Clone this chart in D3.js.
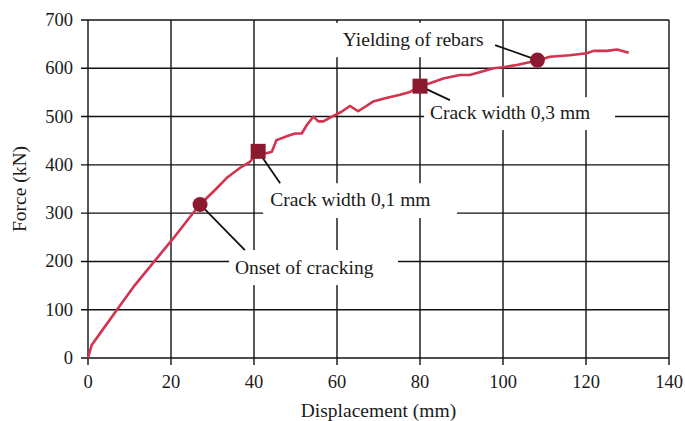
<!DOCTYPE html>
<html>
<head>
<meta charset="utf-8">
<script src="https://cdn.jsdelivr.net/npm/d3@7"></script>
<style>
  body { margin: 0; background: #fff; }
  text { font-family: "Liberation Serif", "DejaVu Serif", serif; fill: #1a1a1a; }
</style>
</head>
<body>
<div id="chart"></div>
<script>
// load-displacement curve
var displacement = [0, 0.9, 2.9, 6.9, 11.3, 15.3, 20.2, 23.4, 26.2, 27, 30.6, 33.7, 37, 39, 41, 43, 44.3, 45.4, 47.5, 49.9, 51.5, 52.7, 54.3, 55.5, 56.7, 57.9, 59.5, 61.1, 63.1, 65.1, 68.7, 71.6, 75.2, 77.6, 80, 82.4, 85.6, 89.6, 92, 97.7, 100, 103.3, 108.3, 111.3, 116.1, 120.2, 121.8, 125, 127.5, 130.3];
var force = [0, 27, 51, 99, 151, 193, 244, 279, 310, 318, 348, 375, 396, 406, 428, 424, 427, 451, 458, 465, 465, 482, 500, 490, 490, 496, 503, 510, 522, 511, 531, 538, 545, 551, 563, 569, 579, 586, 586, 600, 602, 607, 616, 624, 627, 631, 636, 636, 639, 632];

var xTicks = [0, 20, 40, 60, 80, 100, 120, 140];
var yTicks = [0, 100, 200, 300, 400, 500, 600, 700];

// marked events
var eventNames = ["Onset of cracking", "Crack width 0,1 mm", "Crack width 0,3 mm", "Yielding of rebars"];
var eventX = [27, 41, 80, 108.3];
var eventY = [318, 428, 563, 617];
var eventShape = ["circle", "square", "square", "circle"];

// label boxes (data units): [x0, x1, yTop, yBottom], text anchor, leader end
var labelBox = [[34, 74.7, 223.6, 151], [42.2, 88.9, 362, 290], [81, 127, 540, 472], [59.5, 98.5, 694, 623]];
var labelText = [[35.4, 174], [43.9, 315], [82.4, 495], [61.4, 646]];
var leaderEnd = [[37.8, 223.6], [46.3, 362], [87.2, 534], [98.1, 648]];

var W = 685, H = 421;
var margin = {top: 20, right: 16, bottom: 63, left: 88};

var svg = d3.select("#chart").append("svg")
    .attr("width", W).attr("height", H);

var x = d3.scaleLinear().domain([0, 140]).range([margin.left, W - margin.right]);
var y = d3.scaleLinear().domain([0, 700]).range([H - margin.bottom, margin.top]);

// grid
svg.append("g")
    .selectAll("line.h").data(yTicks).enter().append("line")
    .attr("x1", x(0) - 7).attr("x2", x(140))
    .attr("y1", function(d) { return y(d); }).attr("y2", function(d) { return y(d); })
    .attr("stroke", "#111").attr("stroke-width", 1.4);

svg.append("g")
    .selectAll("line.v").data(xTicks).enter().append("line")
    .attr("y1", y(700)).attr("y2", y(0) + 7)
    .attr("x1", function(d) { return x(d); }).attr("x2", function(d) { return x(d); })
    .attr("stroke", "#111").attr("stroke-width", 1.4);

// tick labels
svg.append("g").selectAll("text").data(yTicks).enter().append("text")
    .attr("x", x(0) - 15)
    .attr("y", function(d) { return y(d) + 6; })
    .attr("text-anchor", "end")
    .style("font-size", "18.5px")
    .text(function(d) { return d; });

svg.append("g").selectAll("text").data(xTicks).enter().append("text")
    .attr("x", function(d) { return x(d); })
    .attr("y", y(0) + 30)
    .attr("text-anchor", "middle")
    .style("font-size", "18.5px")
    .text(function(d) { return d; });

// axis titles
svg.append("text")
    .attr("x", (x(0) + x(140)) / 2)
    .attr("y", 417)
    .attr("text-anchor", "middle")
    .style("font-size", "19.5px")
    .text("Displacement (mm)");

svg.append("text")
    .attr("transform", "translate(26," + ((y(0) + y(700)) / 2) + ") rotate(-90)")
    .attr("text-anchor", "middle")
    .style("font-size", "19.5px")
    .text("Force (kN)");

// label boxes hide the grid behind them
svg.append("g").selectAll("rect").data(labelBox).enter().append("rect")
    .attr("x", function(d) { return x(d[0]); })
    .attr("y", function(d) { return y(d[2]); })
    .attr("width", function(d) { return x(d[1]) - x(d[0]); })
    .attr("height", function(d) { return y(d[3]) - y(d[2]); })
    .attr("fill", "#fff");

svg.append("g").selectAll("text").data(eventNames).enter().append("text")
    .attr("x", function(d, i) { return x(labelText[i][0]); })
    .attr("y", function(d, i) { return y(labelText[i][1]); })
    .style("font-size", "19.5px")
    .text(function(d) { return d; });

// curve
var line = d3.line()
    .x(function(d, i) { return x(displacement[i]); })
    .y(function(d) { return y(d); });

svg.append("path")
    .datum(force)
    .attr("d", line)
    .attr("fill", "none")
    .attr("stroke", "#d3334f")
    .attr("stroke-width", 2.6)
    .attr("stroke-linejoin", "round");

// leaders
svg.append("g").selectAll("line").data(eventNames).enter().append("line")
    .attr("x1", function(d, i) { return x(eventX[i]); })
    .attr("y1", function(d, i) { return y(eventY[i]); })
    .attr("x2", function(d, i) { return x(leaderEnd[i][0]); })
    .attr("y2", function(d, i) { return y(leaderEnd[i][1]); })
    .attr("stroke", "#111").attr("stroke-width", 1.8);

// markers
var markerColor = "#8c1a2e";
eventNames.forEach(function(d, i) {
    if (eventShape[i] === "circle") {
        svg.append("circle")
            .attr("cx", x(eventX[i])).attr("cy", y(eventY[i]))
            .attr("r", 7.5).attr("fill", markerColor);
    } else {
        svg.append("rect")
            .attr("x", x(eventX[i]) - 7.5).attr("y", y(eventY[i]) - 7.5)
            .attr("width", 15).attr("height", 15)
            .attr("fill", markerColor);
    }
});
</script>
</body>
</html>
